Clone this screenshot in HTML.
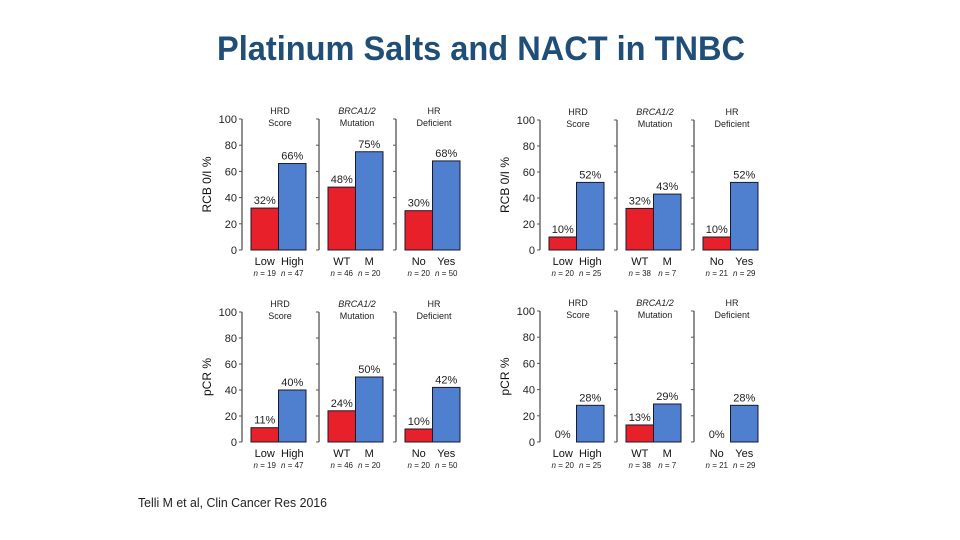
<!DOCTYPE html>
<html><head><meta charset="utf-8"><style>
html,body{margin:0;padding:0;background:#fff;}
svg{display:block;font-family:"Liberation Sans",Arial,sans-serif;}
</style></head><body>
<svg id="s" width="960" height="540" viewBox="0 0 960 540">
<text x="481" y="60" text-anchor="middle" font-size="34" font-weight="bold" fill="#1f4e79" textLength="528" lengthAdjust="spacingAndGlyphs">Platinum Salts and NACT in TNBC</text>
<text x="138" y="507" font-size="12.5" fill="#222" textLength="189" lengthAdjust="spacingAndGlyphs">Telli M et al, Clin Cancer Res 2016</text>
</svg>
<script>
// Panel headings and categories
const panelTitles = [["HRD","Score"],["BRCA1/2","Mutation"],["HR","Deficient"]];
const catsLeft = [["Low","High"],["WT","M"],["No","Yes"]];
const yTicks = [0,20,40,60,80,100];
// Values (percent) per chart: [red,blue] per panel
const rcbLeft = [[32,66],[48,75],[30,68]];
const rcbRight = [[10,52],[32,43],[10,52]];
const pcrLeft = [[11,40],[24,50],[10,42]];
const pcrRight = [[0,28],[13,29],[0,28]];
// n labels
const nLeft = [["19","47"],["46","20"],["20","50"]];
const nRight = [["20","25"],["38","7"],["21","29"]];

const NS = "http://www.w3.org/2000/svg";
const svg = document.getElementById('s');
function el(tag, attrs, parent, text){
  const e = document.createElementNS(NS, tag);
  for (const k in attrs) e.setAttribute(k, attrs[k]);
  if (text !== undefined) e.textContent = text;
  (parent||svg).appendChild(e);
  return e;
}
function drawChart(name, ox, yBase, yTop, yTitle, vals, ns){
  const g = el('g', {});
  
  
  const yS = v => yBase - (v/100)*(yBase - yTop);
  const pw = 77;
  const yt = el('text', {x:0, y:0, 'font-size':12, 'text-anchor':'middle', fill:'#111', transform:`translate(${ox-31},${(yBase+yTop)/2}) rotate(-90)`}, g, yTitle);
  
  
  for (let p = 0; p < 3; p++){
    const ax = ox + p*pw;
    const ln = el('line', {x1:ax, y1:yTop, x2:ax, y2:yBase, stroke:'#555', 'stroke-width':1.3}, g);
    
    
    yTicks.forEach(t => {
      el('line', {x1:ax-3, y1:yS(t), x2:ax, y2:yS(t), stroke:'#555', 'stroke-width':1}, g);
      if (p === 0){
        const tl = el('text', {x:ax-5, y:yS(t)+4, 'font-size':11, 'text-anchor':'end', fill:'#222'}, g, String(t));
        
        
      }
    });
    const cx = ax + 38;
    const t1 = el('text', {x:cx, y:yTop-5, 'font-size':9, 'text-anchor':'middle', fill:'#222', 'font-style': p===1?'italic':'normal'}, g, panelTitles[p][0]);
    
    
    const t2 = el('text', {x:cx, y:yTop+7, 'font-size':9, 'text-anchor':'middle', fill:'#222'}, g, panelTitles[p][1]);
    
    
    for (let b = 0; b < 2; b++){
      const v = vals[p][b];
      const bx = ax + 9 + b*27.5;
      const bw = 27.5;
      if (v > 0){
        const r = el('rect', {x:bx, y:yS(v), width:bw, height:yBase-yS(v), fill: b===0?'#e8202a':'#4f7fcf', stroke:'#1a1a2a', 'stroke-width':1}, g);
        
        
      }
      const vl = el('text', {x:bx+bw/2, y:yS(v)-4, 'font-size':11, 'text-anchor':'middle', fill:'#222'}, g, v+'%');
      
      
      const cl = el('text', {x:bx+bw/2, y:yBase+15, 'font-size':11, 'text-anchor':'middle', fill:'#111'}, g, catsLeft[p][b]);
      
      
      const nl = el('text', {x:bx+bw/2, y:yBase+26, 'font-size':8, 'text-anchor':'middle', fill:'#222'}, g);
      
      
      el('tspan', {'font-style':'italic'}, nl, 'n');
      el('tspan', {}, nl, ' = ' + ns[p][b]);
    }
  }
}
drawChart('rcb-chart-left', 242, 250, 119, 'RCB 0/I %', rcbLeft, nLeft);
drawChart('rcb-chart-right', 540, 250, 120, 'RCB 0/I %', rcbRight, nRight);
drawChart('pcr-chart-left', 242, 442, 312, 'pCR %', pcrLeft, nLeft);
drawChart('pcr-chart-right', 540, 442, 311, 'pCR %', pcrRight, nRight);
</script>
</body></html>
